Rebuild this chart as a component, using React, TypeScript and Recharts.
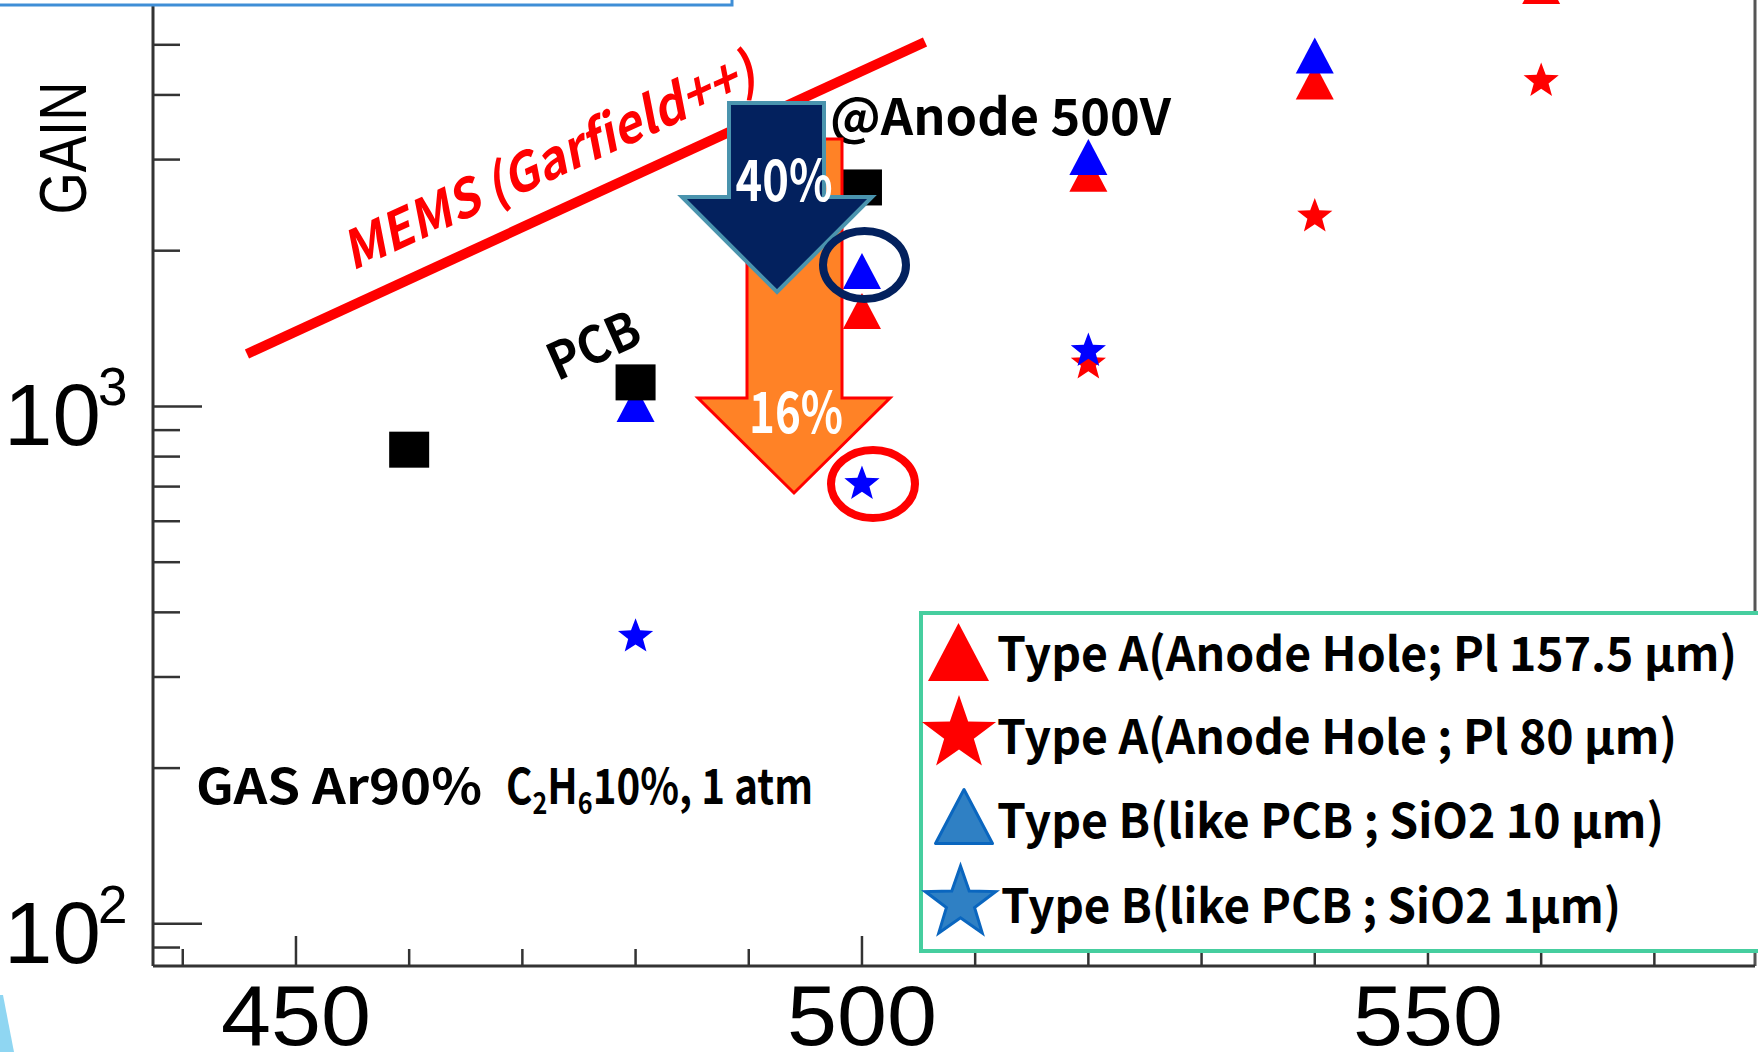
import React from "react";
import { ScatterChart, Scatter, XAxis, YAxis, Legend, ReferenceLine } from "recharts";

// anode voltage (V) vs gain
const pcbVoltage = [460, 480, 500];
const pcbGain = [825, 1113, 2650];
const typeA157Voltage = [500, 520, 540, 560];
const typeA157Gain = [1529, 2818, 4246, 6494];
const typeA80Voltage = [520, 540, 560];
const typeA80Gain = [1211, 2329, 4256];
const typeB10Voltage = [480, 500, 520, 540];
const typeB10Gain = [1011, 1827, 3034, 4768];
const typeB1Voltage = [480, 500, 520];
const typeB1Gain = [359, 708, 1280];
// Garfield++ simulation line end points
const memsVoltage = [445.67, 505.57];
const memsGain = [1263, 5063];

const xTicks = [440, 450, 460, 470, 480, 490, 500, 510, 520, 530, 540, 550, 560, 570];
const xLabels = [450, 500, 550];
const yTicks = [90, 100, 200, 300, 400, 500, 600, 700, 800, 900, 1000, 2000, 3000, 4000, 5000];
const yLabels = [100, 1000];

const legendNames = [
  "Type A(Anode Hole; Pl 157.5 μm)",
  "Type A(Anode Hole ; Pl 80 μm)",
  "Type B(like PCB ; SiO2 10 μm)",
  "Type B(like PCB ; SiO2 1μm)",
];

const toPoints = (xs: number[], ys: number[]) => xs.map((v, i) => ({ voltage: v, gain: ys[i] }));

const AXIS = "#333333";
const ROOT_FONT = "'Liberation Sans', Arial, Helvetica, sans-serif";
const SLIDE_FONT = "'Noto Sans CJK KR', 'Noto Sans', 'Open Sans', sans-serif";

function triPoints(cx: number, cy: number, w: number, h: number) {
  return `${cx - w / 2},${cy + h / 2} ${cx + w / 2},${cy + h / 2} ${cx},${cy - h / 2}`;
}

function starPoints(cx: number, cy: number, r: number, ratio = 0.42) {
  const pts: string[] = [];
  for (let i = 0; i < 10; i++) {
    const rr = i % 2 === 0 ? r : r * ratio;
    const a = -Math.PI / 2 + (i * Math.PI) / 5;
    pts.push(`${cx + rr * Math.cos(a)},${cy + rr * Math.sin(a)}`);
  }
  return pts.join(" ");
}

function GainTick(props: any) {
  const { x, y, payload } = props;
  const v = payload.value;
  const major = yLabels.includes(v);
  return (
    <g>
      <line x1={x} y1={y} x2={x + (major ? 49 : 27)} y2={y} stroke={AXIS} strokeWidth={2.5} />
      {major && (
        <text fontFamily={ROOT_FONT} fill="#000">
          <tspan x={x - 149} y={y + 39} fontSize={87}>10</tspan>
          <tspan x={x - 55} y={y - 1} fontSize={53}>{Math.round(Math.log10(v))}</tspan>
        </text>
      )}
    </g>
  );
}

function VoltageTick(props: any) {
  const { x, y, payload } = props;
  const major = xLabels.includes(payload.value);
  return (
    <g>
      <line x1={x} y1={y} x2={x} y2={y - (major ? 30 : 17)} stroke={AXIS} strokeWidth={2.5} />
      {major && (
        <text x={x} y={y + 79} textAnchor="middle" fontFamily={ROOT_FONT} fontSize={86} fill="#000"
          textLength={150} lengthAdjust="spacingAndGlyphs">
          {payload.value}
        </text>
      )}
    </g>
  );
}

const legendRows = [
  { icon: "tri", fill: "#ff0000", stroke: "none", cx: 39.5, cy: 41, w: 61, h: 58, tx: 78, ty: 60, len: 740 },
  { icon: "star", fill: "#ff0000", stroke: "none", cx: 40, cy: 123, r: 39, tx: 78, ty: 143, len: 680 },
  { icon: "tri", fill: "#2f80c4", stroke: "#0a66bf", cx: 45, cy: 205.5, w: 57, h: 54, tx: 78, ty: 227, len: 667 },
  { icon: "star", fill: "#2f80c4", stroke: "#0a66bf", cx: 41.5, cy: 292, r: 37, tx: 82, ty: 312, len: 620 },
];

function GainLegend(props: any) {
  const payload = props.payload || [];
  const items = legendNames.filter((n) => payload.some((p: any) => p.value === n));
  return (
    <svg width={839} height={342} style={{ display: "block" }}>
      <rect x={2} y={2} width={870} height={338} fill="#fff" stroke="#46ce9f" strokeWidth={4} />
      {items.map((name, i) => {
        const r: any = legendRows[i];
        return (
          <g key={name}>
            {r.icon === "tri" ? (
              <polygon points={triPoints(r.cx, r.cy, r.w, r.h)} fill={r.fill} stroke={r.stroke} strokeWidth={3} strokeLinejoin="round" />
            ) : (
              <polygon points={starPoints(r.cx, r.cy, r.r, 0.4)} fill={r.fill} stroke={r.stroke} strokeWidth={3} />
            )}
            <text x={r.tx} y={r.ty} fontFamily={SLIDE_FONT} fontWeight={700} fontSize={47} fill="#000"
              textLength={r.len} lengthAdjust="spacingAndGlyphs">
              {name}
            </text>
          </g>
        );
      })}
    </svg>
  );
}

function Annotations() {
  return (
    <svg width={1758} height={1052} style={{ position: "absolute", left: 0, top: 0, pointerEvents: "none" }}>
      {/* slide box cut at the top */}
      <rect x={-10} y={-30} width={742} height={35} fill="#fff" stroke="#3f8ed6" strokeWidth={3} />
      {/* light blue slide decoration */}
      <polygon points="0,995 3,995 14,1052 0,1052" fill="#8fd6f2" />

      <text x={556} y={178} textAnchor="middle" transform="rotate(-24.5 556 178)" fontFamily={SLIDE_FONT}
        fontWeight={700} fontStyle="italic" fontSize={52} fill="#ff0000" textLength={448} lengthAdjust="spacingAndGlyphs">
        MEMS (Garfield++)
      </text>
      <text x={601} y={362} textAnchor="middle" transform="rotate(-24 601 362)" fontFamily={SLIDE_FONT}
        fontWeight={700} fontSize={51} fill="#000" textLength={96} lengthAdjust="spacingAndGlyphs">
        PCB
      </text>
      <text x={86} y={148} textAnchor="middle" transform="rotate(-90 86 148)" fontFamily={ROOT_FONT}
        fontSize={66} fill="#000" textLength={133} lengthAdjust="spacingAndGlyphs">
        GAIN
      </text>
      <text x={830} y={135} fontFamily={SLIDE_FONT} fontWeight={700} fontSize={50} fill="#000"
        textLength={341} lengthAdjust="spacingAndGlyphs">
        @Anode 500V
      </text>

      {/* orange (16%) arrow behind the navy (40%) arrow */}
      <polygon points="747,139 842,139 842,398 890,398 794,493 698,398 747,398" fill="#ff8226" stroke="#ff0000" strokeWidth={3} />
      <polygon points="729,103 824,103 824,197 872,197 777,292 682,197 729,197" fill="#03215e" stroke="#4a94ae" strokeWidth={4} />
      <text x={784} y={201} textAnchor="middle" fontFamily={SLIDE_FONT} fontWeight={700} fontSize={57} fill="#fff"
        textLength={97} lengthAdjust="spacingAndGlyphs">40%</text>
      <text x={796} y={433} textAnchor="middle" fontFamily={SLIDE_FONT} fontWeight={700} fontSize={57} fill="#fff"
        textLength={94} lengthAdjust="spacingAndGlyphs">16%</text>

      <ellipse cx={864.5} cy={265} rx={41.5} ry={34} fill="none" stroke="#03215e" strokeWidth={8} />
      <ellipse cx={873} cy={484} rx={42} ry={34} fill="none" stroke="#ff0000" strokeWidth={8} />

      <text y={804} fontFamily={SLIDE_FONT} fontWeight={700} fontSize={48} fill="#000">
        <tspan x={196} textLength={286} lengthAdjust="spacingAndGlyphs">GAS Ar90%</tspan>
        <tspan x={506} textLength={307} lengthAdjust="spacingAndGlyphs">
          C<tspan fontSize={30} dy={10}>2</tspan>
          <tspan dy={-10}>H</tspan>
          <tspan fontSize={30} dy={10}>6</tspan>
          <tspan dy={-10}>10%, 1 atm</tspan>
        </tspan>
      </text>
    </svg>
  );
}

export default function App() {
  return (
    <div style={{ position: "absolute", left: 0, top: 0, width: 1758, height: 1052, background: "#fff", overflow: "hidden" }}>
      <ScatterChart width={1758} height={1052} margin={{ top: 0, right: 3, bottom: 0, left: 0 }}>
        <XAxis type="number" dataKey="voltage" domain={[437.37, 578.89]} allowDataOverflow ticks={xTicks} interval={0}
          height={86} tickSize={0} tickMargin={0} tickLine={false} tick={<VoltageTick />}
          axisLine={{ stroke: AXIS, strokeWidth: 3 }} />
        <YAxis type="number" dataKey="gain" scale="log" domain={[82.9, 6103]} allowDataOverflow ticks={yTicks} interval={0}
          width={153} tickSize={0} tickMargin={0} tickLine={false} tick={<GainTick />}
          axisLine={{ stroke: AXIS, strokeWidth: 3 }} />
        <ReferenceLine x={578.89} stroke="#555" strokeWidth={3} />
        <Legend layout="vertical" align="center" verticalAlign="middle" width={839} height={342}
          wrapperStyle={{ position: "absolute", left: 919, top: 611, width: 839, height: 342 }}
          content={<GainLegend />} />

        <Scatter name="MEMS (Garfield++)" data={toPoints(memsVoltage, memsGain)} legendType="none" isAnimationActive={false}
          line={{ stroke: "#ff0000", strokeWidth: 10 }} shape={() => <g />} />
        <Scatter name={legendNames[0]} data={toPoints(typeA157Voltage, typeA157Gain)} fill="#ff0000" isAnimationActive={false}
          shape={(p: any) => <polygon points={triPoints(p.cx, p.cy, 38, 36)} fill="#ff0000" />} />
        <Scatter name={legendNames[1]} data={toPoints(typeA80Voltage, typeA80Gain)} fill="#ff0000" isAnimationActive={false}
          shape={(p: any) => <polygon points={starPoints(p.cx, p.cy, 18.5)} fill="#ff0000" />} />
        <Scatter name={legendNames[2]} data={toPoints(typeB10Voltage, typeB10Gain)} fill="#0000ff" isAnimationActive={false}
          shape={(p: any) => <polygon points={triPoints(p.cx, p.cy, 38, 36)} fill="#0000ff" />} />
        <Scatter name={legendNames[3]} data={toPoints(typeB1Voltage, typeB1Gain)} fill="#0000ff" isAnimationActive={false}
          shape={(p: any) => <polygon points={starPoints(p.cx, p.cy, 18.5)} fill="#0000ff" />} />
        <Scatter name="PCB" data={toPoints(pcbVoltage, pcbGain)} legendType="none" fill="#000" isAnimationActive={false}
          shape={(p: any) => <rect x={p.cx - 20} y={p.cy - 18} width={40} height={36} fill="#000" />} />
      </ScatterChart>
      <Annotations />
    </div>
  );
}
